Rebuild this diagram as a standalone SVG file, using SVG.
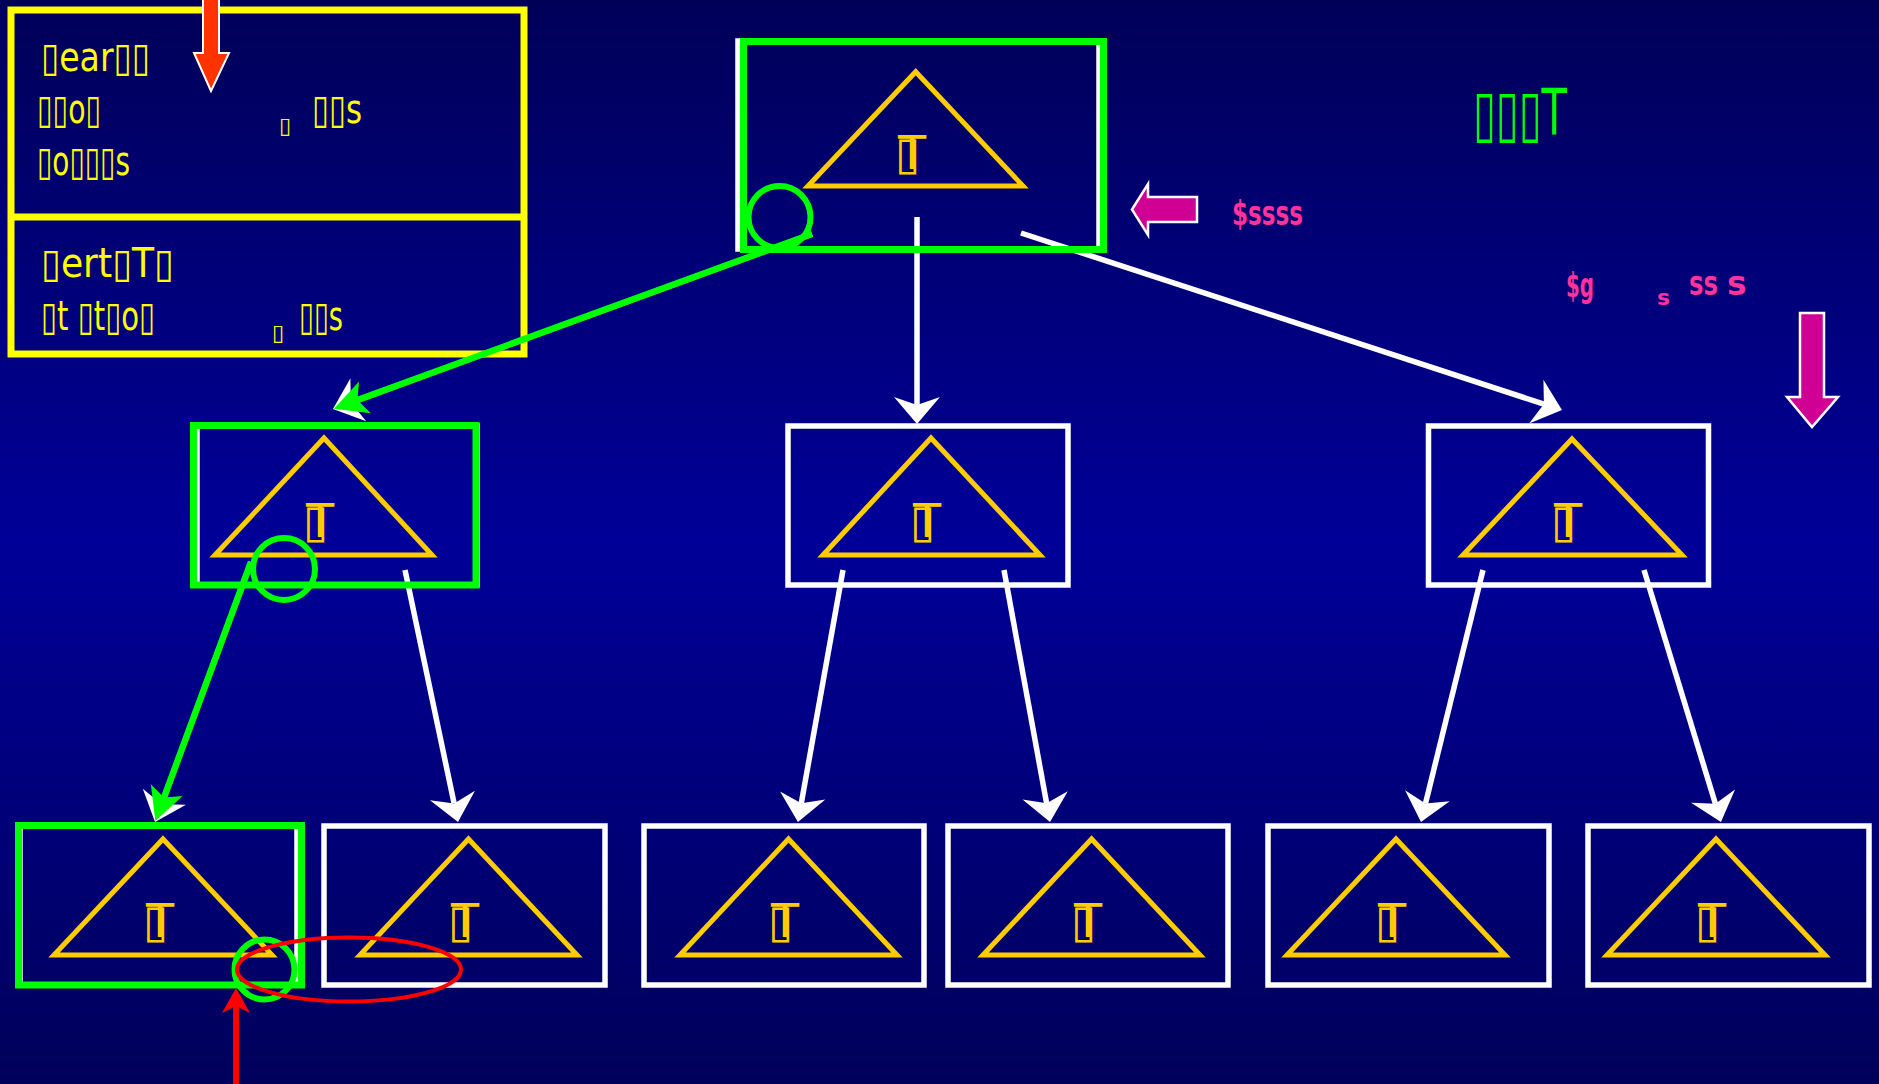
<svg xmlns="http://www.w3.org/2000/svg" width="1879" height="1084" viewBox="0 0 1879 1084">
<style>
.tri{fill:none;stroke:#ffcc00;stroke-width:5;stroke-linejoin:miter}
.wbox{fill:none;stroke:#ffffff;stroke-width:5.5}
.gbox{fill:none;stroke:#00ff00;stroke-width:7}
.gcirc{fill:none;stroke:#00ff00;stroke-width:6}
.lbl{fill:#ffcc00;font-family:"DejaVu Sans",sans-serif;font-size:46px}
.ylw{fill:#ffff00;font-family:"DejaVu Sans",sans-serif;font-size:40px}
.ysm{fill:#ffff00;font-family:"DejaVu Sans",sans-serif;font-size:22px}
.pink{fill:#ff3399;font-family:"DejaVu Sans",sans-serif;font-weight:bold}
.wline{fill:none;stroke:#ffffff;stroke-width:5.5;marker-end:url(#wh)}
.gline{fill:none;stroke:#00ff00;stroke-width:6.5;marker-end:url(#gh)}
</style>
<defs>
<linearGradient id="bg" x1="0" y1="0" x2="0" y2="1">
<stop offset="0" stop-color="#000058"/>
<stop offset="0.5" stop-color="#000098"/>
<stop offset="1" stop-color="#00005a"/>
</linearGradient>
<marker id="wh" markerUnits="userSpaceOnUse" viewBox="-30 -26 34 52" markerWidth="34" markerHeight="52" refX="-19" refY="0" orient="auto" overflow="visible">
<path d="M0,0 L-27,-23 L-19,0 L-27,23 Z" fill="#ffffff"/>
</marker>
<marker id="gh" markerUnits="userSpaceOnUse" viewBox="-36 -20 40 40" markerWidth="40" markerHeight="40" refX="-25" refY="0" orient="auto" overflow="visible">
<path d="M0,0 L-33,-17 L-25,0 L-33,17 Z" fill="#00ff00"/>
</marker>
</defs>
<rect x="0" y="0" width="1879" height="1084" fill="url(#bg)"/>

<g id="legend">
<rect x="11" y="10" width="513" height="344" fill="none" stroke="#ffff00" stroke-width="7"/>
<line x1="11" y1="217" x2="524" y2="217" stroke="#ffff00" stroke-width="7"/>
<text class="ylw" x="41" y="71" textLength="109" lengthAdjust="spacingAndGlyphs">▯ear▯▯</text>
<text class="ylw" x="37" y="123" textLength="64" lengthAdjust="spacingAndGlyphs">▯▯o▯</text>
<text class="ysm" x="279" y="133">▯</text>
<text class="ylw" x="312" y="123" textLength="50" lengthAdjust="spacingAndGlyphs">▯▯s</text>
<text class="ylw" x="37" y="175" textLength="93" lengthAdjust="spacingAndGlyphs">▯o▯▯▯s</text>
<text class="ylw" x="41" y="277" textLength="133" lengthAdjust="spacingAndGlyphs">▯ert▯T▯</text>
<text class="ylw" x="41" y="330" textLength="114" lengthAdjust="spacingAndGlyphs">▯t ▯t▯o▯</text>
<text class="ysm" x="272" y="340">▯</text>
<text class="ylw" x="299" y="330" textLength="44" lengthAdjust="spacingAndGlyphs">▯▯s</text>
</g>

<g id="connectors">
<path class="wline" d="M917,217 L917,405"/>
<path class="wline" d="M1021,233 L1543.9,404.1"/>
<path class="wline" d="M812,234 L350.8,402.5"/>
<path class="gline" d="M812,234 L357.4,400.1"/>
<path class="wline" d="M251,562 L161.6,804.2"/>
<path class="gline" d="M251,562 L164,797.6"/>
<path class="wline" d="M405,570 L454.1,803.4"/>
<path class="wline" d="M843,570 L801.3,803.3"/>
<path class="wline" d="M1004,570 L1046.6,803.3"/>
<path class="wline" d="M1483,570 L1425.5,803.5"/>
<path class="wline" d="M1644,570 L1715.4,803.8"/>
</g>

<g id="node-root">
<rect class="wbox" x="738" y="41" width="361" height="208" stroke-width="4.5"/>
<rect class="gbox" x="743.5" y="41.5" width="360" height="208"/>
<polygon class="tri" points="915.7,71.7 1023,186 808,186"/>
<text class="lbl" x="895" y="169" textLength="31" lengthAdjust="spacing">▯T</text>
<circle class="gcirc" cx="779.5" cy="217" r="31"/>
</g>

<g id="node-l2-left">
<rect class="wbox" x="197" y="426" width="280" height="159"/>
<rect class="gbox" x="193.5" y="425.5" width="282.5" height="159.5"/>
<polygon class="tri" points="324,438 432,555 215,555"/>
<text class="lbl" x="303" y="537" textLength="31" lengthAdjust="spacing">▯T</text>
<circle class="gcirc" cx="284" cy="569" r="31"/>
</g>

<g id="node-l2-mid">
<rect class="wbox" x="788" y="426" width="280" height="159"/>
<polygon class="tri" points="931,438 1040,555 823,555"/>
<text class="lbl" x="910" y="537" textLength="31" lengthAdjust="spacing">▯T</text>
</g>

<g id="node-l2-right">
<rect class="wbox" x="1428.5" y="426" width="280" height="159"/>
<polygon class="tri" points="1572,439 1682,555 1463,555"/>
<text class="lbl" x="1551" y="537" textLength="31" lengthAdjust="spacing">▯T</text>
</g>

<g id="node-b1">
<rect class="wbox" x="20" y="826" width="277" height="159"/>
<rect class="gbox" x="18.5" y="825.5" width="283" height="159.5"/>
<polygon class="tri" points="163,839 272,955 54,955"/>
<text class="lbl" x="143" y="937" textLength="31" lengthAdjust="spacing">▯T</text>
<circle class="gcirc" cx="264.5" cy="969.5" r="30"/>
</g>

<g id="node-b2">
<rect class="wbox" x="324" y="826" width="281" height="159"/>
<polygon class="tri" points="468.5,839 577,955 360,955"/>
<text class="lbl" x="448" y="937" textLength="31" lengthAdjust="spacing">▯T</text>
</g>

<g id="node-b3">
<rect class="wbox" x="644" y="826" width="280" height="159"/>
<polygon class="tri" points="788.5,839 897,955 680,955"/>
<text class="lbl" x="768" y="937" textLength="31" lengthAdjust="spacing">▯T</text>
</g>

<g id="node-b4">
<rect class="wbox" x="948" y="826" width="280" height="159"/>
<polygon class="tri" points="1091.6,839 1200,955 983,955"/>
<text class="lbl" x="1071" y="937" textLength="31" lengthAdjust="spacing">▯T</text>
</g>

<g id="node-b5">
<rect class="wbox" x="1268" y="826" width="281" height="159"/>
<polygon class="tri" points="1396,839 1505,955 1287,955"/>
<text class="lbl" x="1375" y="937" textLength="31" lengthAdjust="spacing">▯T</text>
</g>

<g id="node-b6">
<rect class="wbox" x="1588" y="826" width="281" height="159"/>
<polygon class="tri" points="1716,839 1825,955 1607,955"/>
<text class="lbl" x="1695" y="937" textLength="31" lengthAdjust="spacing">▯T</text>
</g>

<g id="annotations">
<polygon points="203,-5 219,-5 219,53 229,53 211,91 194,53 203,53" fill="#ff3300" stroke="#ffffff" stroke-width="2"/>
<polygon points="1132,209.5 1148,184 1148,197 1197,197 1197,222 1148,222 1148,235" fill="#d10094" stroke="#ffffff" stroke-width="2.5"/>
<polygon points="1800,313 1824,313 1824,397 1838,397 1812,427 1787,397 1800,397" fill="#d10094" stroke="#ffffff" stroke-width="2.5"/>
<text x="1473" y="135" fill="#00ff00" font-family="DejaVu Sans, sans-serif" font-size="64" textLength="94" lengthAdjust="spacingAndGlyphs">▯▯▯T</text>
<text class="pink" x="1232" y="225" font-size="33" textLength="71" lengthAdjust="spacingAndGlyphs">$ssss</text>
<text class="pink" x="1566" y="297" font-size="33" textLength="28" lengthAdjust="spacingAndGlyphs">$g</text>
<text class="pink" x="1657" y="305" font-size="22">s</text>
<text class="pink" x="1689" y="295" font-size="33" textLength="29" lengthAdjust="spacingAndGlyphs">ss</text>
<text class="pink" x="1727" y="295" font-size="33">s</text>
<ellipse cx="349" cy="969.5" rx="112" ry="32" fill="none" stroke="#ff0000" stroke-width="4"/>
<line x1="236" y1="1084" x2="236" y2="1006" stroke="#ff0000" stroke-width="6"/>
<polygon points="236,988 250,1013 236,1006 222,1013" fill="#ff0000"/>
</g>
</svg>
